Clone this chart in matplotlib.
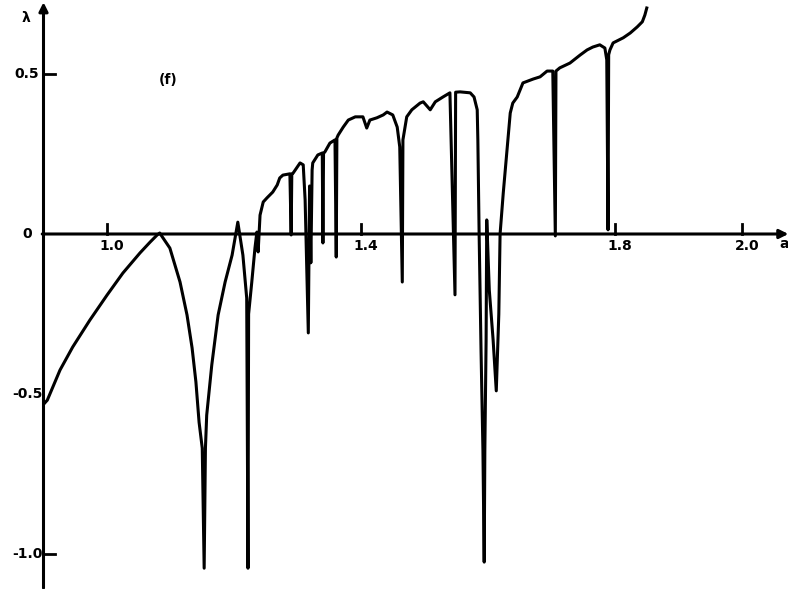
import matplotlib.pyplot as plt

plt.rcParams['font.family'] = 'DejaVu Sans'

# Lyapunov exponent vs parameter a
a_vals = [
    0.901, 0.906, 0.926, 0.946, 0.973, 1.000, 1.025, 1.052, 1.068, 1.079,
    1.083, 1.099, 1.115, 1.126, 1.134, 1.140, 1.145, 1.150, 1.153, 1.155,
    1.157, 1.165, 1.175, 1.186, 1.197, 1.206,
    1.214, 1.220, 1.222, 1.223, 1.228, 1.233, 1.236, 1.238, 1.241,
    1.246, 1.252, 1.261, 1.268, 1.272, 1.277, 1.288, 1.290, 1.291,
    1.293, 1.304, 1.309, 1.312, 1.317, 1.319, 1.321, 1.323, 1.324,
    1.332, 1.339, 1.340, 1.341, 1.343, 1.351, 1.359, 1.361, 1.362,
    1.364, 1.372, 1.380, 1.391, 1.403, 1.409, 1.414, 1.425, 1.435,
    1.441, 1.450, 1.457, 1.461, 1.465, 1.466, 1.472, 1.480, 1.493,
    1.498, 1.509, 1.517, 1.529, 1.540, 1.548, 1.549, 1.556, 1.572,
    1.578, 1.583, 1.584, 1.586, 1.589, 1.592, 1.594, 1.595, 1.597,
    1.598, 1.602, 1.608, 1.613, 1.617, 1.619,
    1.624, 1.630, 1.635, 1.639, 1.646, 1.655, 1.671, 1.682, 1.693,
    1.702, 1.706, 1.707, 1.713, 1.729, 1.745, 1.756, 1.765, 1.776,
    1.784, 1.787, 1.789, 1.790, 1.792, 1.797, 1.813, 1.824, 1.835,
    1.843, 1.847, 1.850,
]
lam_vals = [
    -0.530, -0.519, -0.425, -0.353, -0.269, -0.191, -0.122, -0.059, -0.025, -0.003,
    0.003, -0.044, -0.150, -0.253, -0.356, -0.462, -0.588, -0.669, -1.044, -0.669,
    -0.566, -0.409, -0.253, -0.150, -0.066, 0.037,
    -0.066, -0.200, -1.044, -0.250, -0.150, -0.044, 0.006, -0.056, 0.059,
    0.100, 0.113, 0.131, 0.153, 0.175, 0.184, 0.188, -0.003, 0.188,
    0.190, 0.222, 0.216, 0.106, -0.309, 0.150, -0.090, 0.200, 0.222,
    0.247, 0.253, -0.028, 0.253, 0.256, 0.284, 0.294, -0.072, 0.300,
    0.309, 0.334, 0.356, 0.366, 0.366, 0.331, 0.356, 0.363, 0.372,
    0.381, 0.372, 0.334, 0.272, -0.150, 0.294, 0.366, 0.388, 0.409,
    0.413, 0.388, 0.413, 0.428, 0.441, -0.190, 0.443, 0.444, 0.441,
    0.428, 0.388, 0.294, 0.000, -0.363, -0.675, -1.025, -0.675, -0.330,
    0.044, -0.175, -0.330, -0.490, -0.250, 0.000,
    0.128, 0.263, 0.378, 0.409, 0.428, 0.472, 0.484, 0.491, 0.509,
    0.509, -0.006, 0.509, 0.519, 0.534, 0.559, 0.575, 0.584, 0.591,
    0.581, 0.544, 0.013, 0.560, 0.575, 0.597, 0.613, 0.628, 0.647,
    0.663, 0.684, 0.706,
]

x_ticks = [1.0, 1.4, 1.8, 2.0]
x_tick_labels = ['1.0', '1.4', '1.8', '2.0']
y_ticks = [0.5, -1.0]
y_label_vals = [0.5, 0.0, -0.5, -1.0]
y_label_text = ['0.5', '0', '-0.5', '-1.0']

fig = plt.figure(figsize=(7.88, 5.89), dpi=100)
ax = fig.add_axes([0, 0, 1, 1])
ax.set_xlim(0.8315, 2.0724)
ax.set_ylim(-1.109, 0.731)
ax.axis('off')

arrow = dict(arrowstyle='-|>', lw=2.2, color='black', mutation_scale=13,
             shrinkA=0, shrinkB=0)
# axes drawn as arrows like in the original figure
ax.annotate('', xy=(2.073, 0), xytext=(0.898, 0), arrowprops=arrow)
ax.annotate('', xy=(0.9, 0.724), xytext=(0.9, -1.106), arrowprops=arrow)

for t in x_ticks:
    ax.plot([t, t], [0, 0.03], color='black', lw=2)
for t in y_ticks:
    ax.plot([0.9, 0.918], [t, t], color='black', lw=2)

txt = dict(fontsize=10, fontweight='bold', ha='center', va='center')
for t, lab in zip(x_ticks, x_tick_labels):
    ax.text(t + 0.008, -0.036, lab, **txt)
for t, lab in zip(y_label_vals, y_label_text):
    ax.text(0.874, t, lab, **txt)
ax.text(2.066, -0.03, 'a', **txt)
ax.text(0.872, 0.675, 'λ', **txt)
ax.text(1.096, 0.481, '(f)', **txt)

ax.plot(a_vals, lam_vals, color='black', lw=2.2, solid_joinstyle='round')

fig.savefig('out.png', dpi=100)
